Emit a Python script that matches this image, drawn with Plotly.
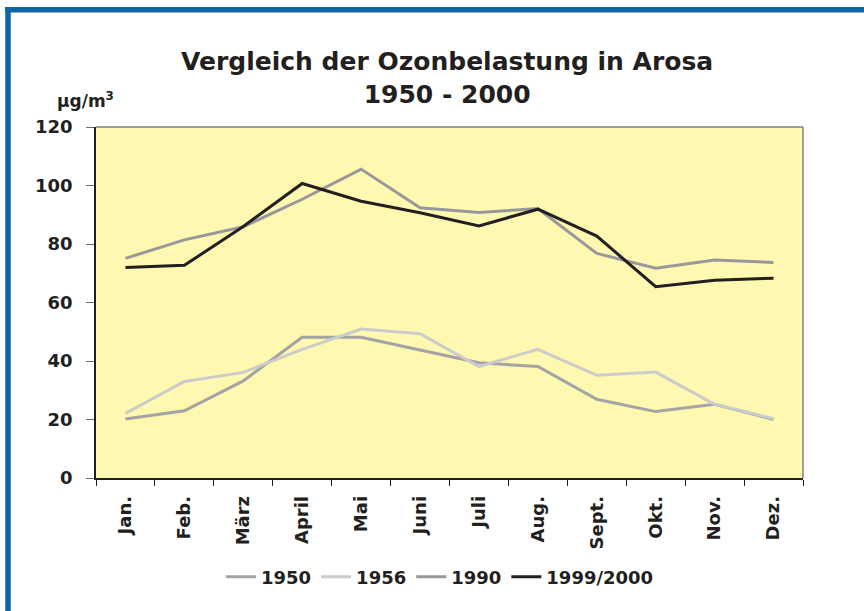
import plotly.graph_objects as go

months = ["Jan.", "Feb.", "März", "April", "Mai", "Juni", "Juli", "Aug.", "Sept.", "Okt.", "Nov.", "Dez."]

ozon_1950 = [20.2, 23.0, 33.2, 48.1, 48.1, 43.8, 39.4, 38.1, 26.9, 22.7, 25.2, 20.0]
ozon_1956 = [22.1, 33.0, 36.1, 44.0, 50.9, 49.3, 38.1, 44.0, 35.1, 36.2, 25.2, 20.3]
ozon_1990 = [75.1, 81.4, 85.9, 95.3, 105.6, 92.4, 90.8, 92.1, 76.8, 71.7, 74.5, 73.7]
ozon_1999 = [72.0, 72.7, 86.0, 100.7, 94.6, 90.7, 86.2, 91.9, 82.7, 65.4, 67.6, 68.3]

y_ticks = [0, 20, 40, 60, 80, 100, 120]

series = [
    ("1950", ozon_1950, "#a3a3a5"),
    ("1956", ozon_1956, "#cbcbcb"),
    ("1990", ozon_1990, "#98989a"),
    ("1999/2000", ozon_1999, "#231f20"),
]

W, H = 864, 611
L, R, T, B = 96, 61, 127, 133
pw, ph = W - L - R, H - T - B

def px(x):
    return (x - L) / pw

def py(y):
    return (H - B - y) / ph

fig = go.Figure()
for name, vals, col in series:
    fig.add_trace(go.Scatter(
        x=months, y=vals, name=name, mode="lines",
        line=dict(color=col, width=3),
    ))

txt = "#231f20"
fnt = "DejaVu Sans, Liberation Sans, Arial, sans-serif"
fig.update_layout(
    width=W, height=H,
    margin=dict(l=L, r=R, t=T, b=B),
    paper_bgcolor="white",
    plot_bgcolor="#fff8b0",
    font=dict(family=fnt, color=txt),
    showlegend=True,
    legend=dict(
        orientation="h", x=px(440), xanchor="center", y=py(577), yanchor="middle",
        font=dict(size=18, weight="bold", color=txt),
        itemwidth=30, tracegroupgap=0,
    ),
    xaxis=dict(
        type="category", range=[-0.5, 11.5],
        tickangle=-90, tickson="boundaries",
        ticks="outside", ticklen=6, tickcolor="#231f20", tickwidth=1,
        ticklabelstandoff=9,
        tickfont=dict(size=18, weight="bold", color=txt),
        showline=True, linecolor="#231f20", linewidth=1.5,
        showgrid=False, zeroline=False,
    ),
    yaxis=dict(
        range=[0, 120], tickvals=y_ticks,
        ticks="outside", ticklen=8, tickcolor="#6b6b6b", tickwidth=1,
        ticklabelstandoff=10,
        tickfont=dict(size=18, weight="bold", color=txt),
        showline=True, linecolor="#231f20", linewidth=1.5,
        showgrid=False, zeroline=False,
    ),
    annotations=[
        dict(text="Vergleich der Ozonbelastung in Arosa<br>1950 - 2000",
             x=px(447), y=py(78), xref="paper", yref="paper",
             xanchor="center", yanchor="middle", showarrow=False,
             font=dict(size=25, weight="bold", color=txt)),
        dict(text="µg/m<sup>3</sup>",
             x=px(55), y=py(100), xref="paper", yref="paper",
             xanchor="left", yanchor="middle", showarrow=False,
             font=dict(size=17, weight="bold", color=txt)),
    ],
    shapes=[
        # grey frame on top and right of the plot area
        dict(type="line", xref="paper", yref="paper", x0=0, x1=1, y0=1, y1=1,
             line=dict(color="#808080", width=1.5)),
        dict(type="line", xref="paper", yref="paper", x0=1, x1=1, y0=0, y1=1,
             line=dict(color="#808080", width=1.5)),
        # blue outer frame (top and left only)
        dict(type="line", xref="paper", yref="paper", x0=px(5), x1=px(W), y0=py(9.8), y1=py(9.8),
             line=dict(color="#0f67a8", width=5.5)),
        dict(type="line", xref="paper", yref="paper", x0=px(8), x1=px(8), y0=py(7), y1=py(H),
             line=dict(color="#0f67a8", width=5.5)),
    ],
)

fig.write_html("out.html", config={"displayModeBar": False},
               post_script="document.body.style.margin='0';")
